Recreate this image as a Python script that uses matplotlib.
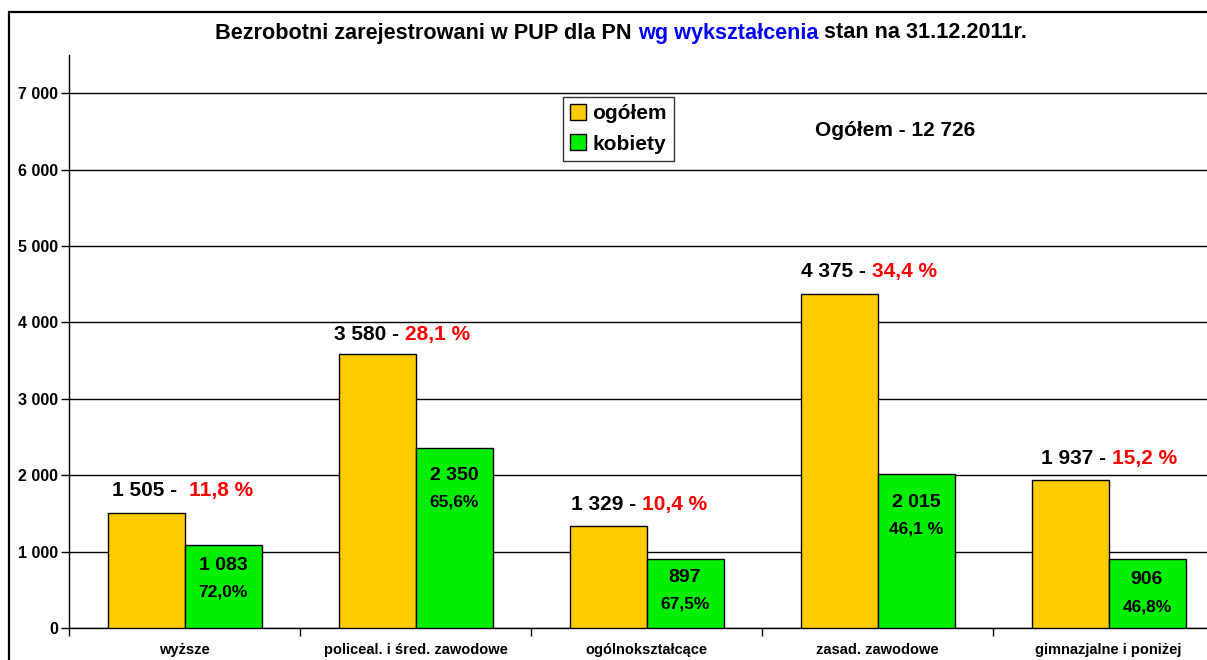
import numpy as np
import matplotlib
matplotlib.use("Agg")
import matplotlib.pyplot as plt
from matplotlib.patches import Rectangle
from matplotlib.lines import Line2D

# ==========================================
# DATA
# ==========================================

categories = ["wyższe", "policeal. i śred. zawodowe", "ogólnokształcące",
              "zasad. zawodowe", "gimnazjalne i poniżej"]
ogolem = [1505, 3580, 1329, 4375, 1937]
kobiety = [1083, 2350, 897, 2015, 906]
ogolem_share = ["11,8 %", "28,1 %", "10,4 %", "34,4 %", "15,2 %"]
kobiety_share = ["72,0%", "65,6%", "67,5%", "46,1 %", "46,8%"]
series_names = ["ogółem", "kobiety"]
total_text = "Ogółem - 12 726"

# label placement (layout only)
top_label_cx = [0.02, -0.046, -0.02, -0.024, 0.015]  # black/red split, group units
top_label_y = [1805, 3840, 1610, 4660, 2225]         # centre, in data units
top_label_sep = ["  ", " ", " ", " ", " "]
green_label_dy = [20, 27, 18, 28, 21]                # px below bar top

# ==========================================
# FIGURE
# ==========================================

plt.rcParams['font.family'] = ['Liberation Sans', 'DejaVu Sans']
plt.rcParams['font.weight'] = 'bold'

W, H = 1207, 660
fig = plt.figure(figsize=(W / 100, H / 100), dpi=100)
px = 72 / 100  # points per pixel

# outer chart frame
fig.patches.append(Rectangle((9 / W, -0.1), 1.2, 1 - 12 / H + 0.1,
                             transform=fig.transFigure, fill=False,
                             edgecolor="black", linewidth=1.6))

left, right = 69, 1224
bottom, top = 628, 55
ax = fig.add_axes([left / W, 1 - bottom / H, (right - left) / W, (bottom - top) / H])

yellow = "#FFCC00"
green = "#00EE00"
x = np.arange(len(categories))
bw = 1 / 3

ax.bar(x - bw / 2, ogolem, bw, color=yellow, edgecolor="black", linewidth=1, zorder=3)
ax.bar(x + bw / 2, kobiety, bw, color=green, edgecolor="black", linewidth=1, zorder=3)

ax.set_xlim(-0.5, len(categories) - 0.5)
ax.set_ylim(0, 7500)
ax.set_yticks(np.arange(0, 7001, 1000))
ax.set_yticklabels([f"{v:,}".replace(",", " ") for v in range(0, 7001, 1000)],
                   fontsize=11.5, fontweight="bold")
ax.set_xticks(np.arange(-0.5, len(categories) - 0.4, 1))
ax.set_xticklabels([])
for i, c in enumerate(categories):
    ax.annotate(c, xy=(i, 0), xytext=(0, -22 * px), textcoords="offset points",
                ha="center", va="center", fontsize=10.5, fontweight="bold",
                annotation_clip=False)

ax.yaxis.grid(True, color="black", linewidth=1, zorder=0)
ax.set_axisbelow(True)
for s in ["top", "right"]:
    ax.spines[s].set_visible(False)
ax.spines["left"].set_linewidth(1)
ax.spines["bottom"].set_linewidth(1)
ax.tick_params(axis="y", length=6, width=1, pad=2)
ax.tick_params(axis="x", length=6, width=1)

fig.canvas.draw()

# labels above the yellow bars: black value + red share
for i in range(len(categories)):
    val = f"{ogolem[i]:,}".replace(",", " ") + " -" + top_label_sep[i]
    t1 = ax.text(i + top_label_cx[i], top_label_y[i], val,
                 ha="right", va="center", fontsize=15, fontweight="bold")
    ax.annotate(ogolem_share[i], xy=(1, 0.5), xycoords=t1, va="center",
                ha="left", fontsize=15, fontweight="bold", color="#FF0000")

# labels inside the green bars
for i in range(len(categories)):
    dy = green_label_dy[i]
    ax.annotate(f"{kobiety[i]:,}".replace(",", " "), xy=(i + bw / 2, kobiety[i]),
                xytext=(0, -dy * px), textcoords="offset points", ha="center",
                va="center", fontsize=14, fontweight="bold")
    ax.annotate(kobiety_share[i], xy=(i + bw / 2, kobiety[i]),
                xytext=(0, -(dy + 27) * px), textcoords="offset points",
                ha="center", va="center", fontsize=12.5, fontweight="bold")

# legend
handles = [Line2D([], [], marker="s", linestyle="", markersize=11,
                  markerfacecolor=col, markeredgecolor="black")
           for col in (yellow, green)]
leg = fig.legend(handles, series_names, loc="upper left",
                 bbox_to_anchor=(563 / W, 1 - 97 / H), frameon=True,
                 prop={"size": 15, "weight": "bold"}, handlelength=0.7,
                 handletextpad=0.35, borderpad=0.35, labelspacing=0.55,
                 borderaxespad=0, fancybox=False, edgecolor="black")
leg.get_frame().set_linewidth(1)

fig.text(895 / W, 1 - 131 / H, total_text, ha="center", va="center",
         fontsize=15, fontweight="bold")

# title in three colours
t_a = fig.text(215 / W, 1 - 33 / H, "Bezrobotni zarejestrowani w PUP dla PN ",
               fontsize=15.6, fontweight="bold", va="center")
t_b = ax.annotate("wg wykształcenia", xy=(1, 0), xycoords=t_a, va="bottom",
                  fontsize=15.6, fontweight="bold", color="#0000FF",
                  annotation_clip=False)
ax.annotate(" stan na 31.12.2011r.", xy=(1, 0), xycoords=t_b, va="bottom",
            fontsize=15.6, fontweight="bold", annotation_clip=False)

fig.savefig("out.png", dpi=100)
